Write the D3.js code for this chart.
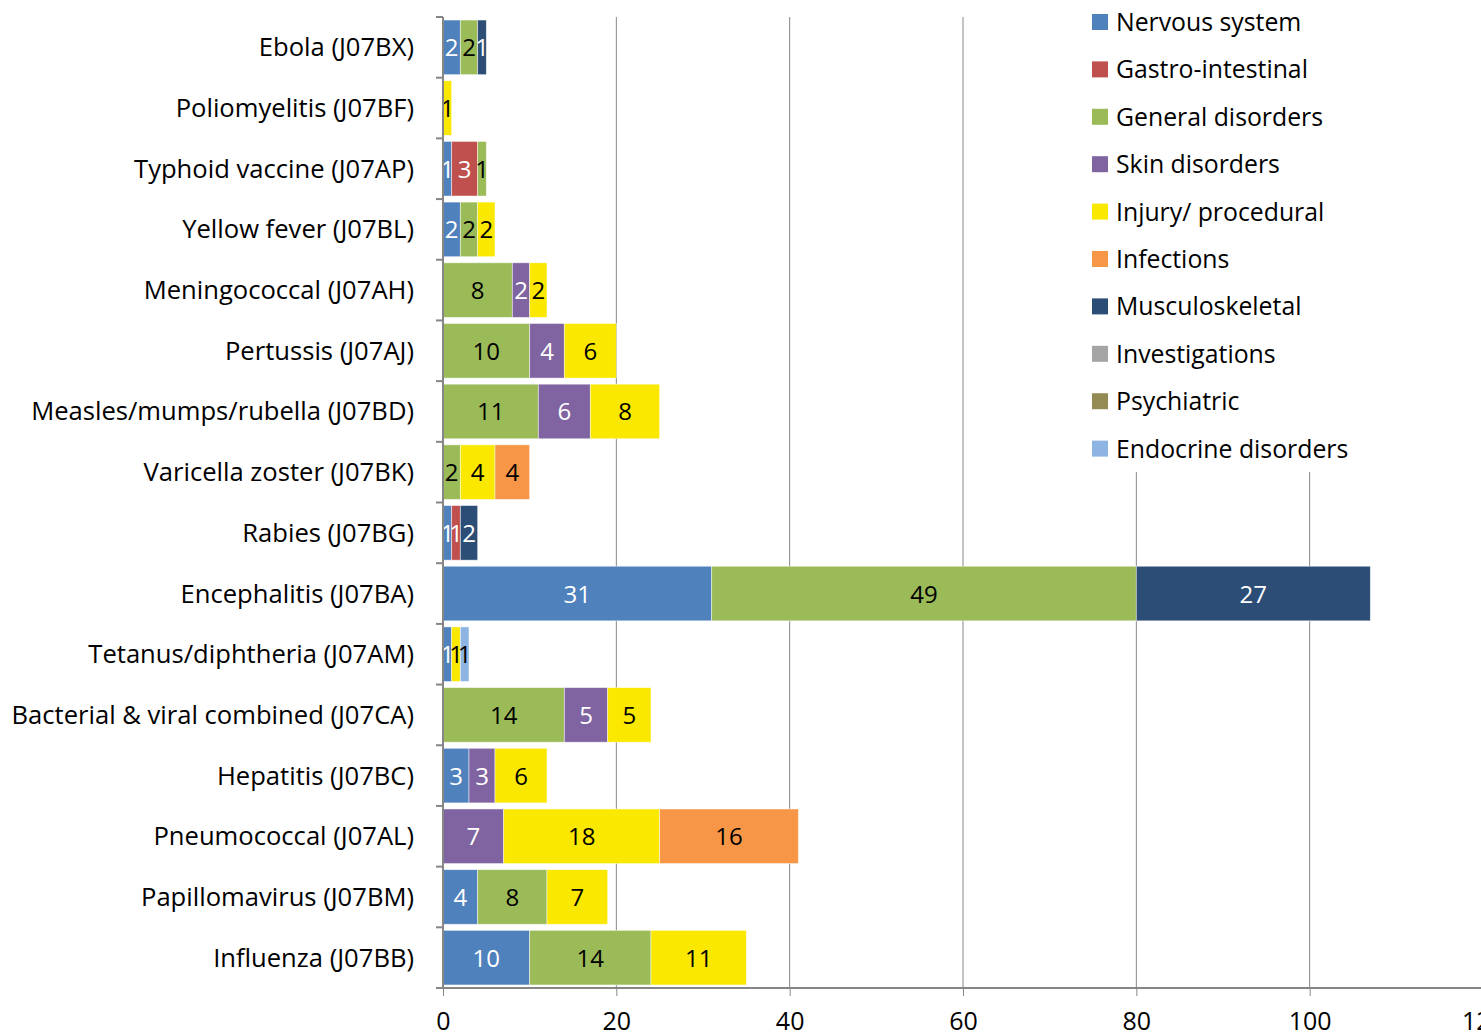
<!DOCTYPE html>
<html>
<head>
<meta charset="utf-8">
<script src="https://cdn.jsdelivr.net/npm/d3@7"></script>
<style>
  body { margin: 0; background: #fff; }
  svg text { font-family: "Open Sans", "Noto Sans", sans-serif; }
</style>
</head>
<body>
<div id="chart"></div>
<script>
////////////////////////////////////////////////////////////////////////
// data -- adverse reactions per vaccine group, stacked by organ class
////////////////////////////////////////////////////////////////////////
var vaccines = [
  "Ebola (J07BX)", "Poliomyelitis (J07BF)", "Typhoid vaccine (J07AP)",
  "Yellow fever (J07BL)", "Meningococcal (J07AH)", "Pertussis (J07AJ)",
  "Measles/mumps/rubella (J07BD)", "Varicella zoster (J07BK)", "Rabies (J07BG)",
  "Encephalitis (J07BA)", "Tetanus/diphtheria (J07AM)",
  "Bacterial & viral combined (J07CA)", "Hepatitis (J07BC)",
  "Pneumococcal (J07AL)", "Papillomavirus (J07BM)", "Influenza (J07BB)"
];

var seriesNames = [
  "Nervous system", "Gastro-intestinal", "General disorders", "Skin disorders",
  "Injury/ procedural", "Infections", "Musculoskeletal", "Investigations",
  "Psychiatric", "Endocrine disorders"
];

var seriesColors = ["#4f81bd", "#c0504d", "#9bbb59", "#8064a2", "#fae800",
                    "#f79646", "#2c4d75", "#a5a5a5", "#948a54", "#8eb4e3"];
var labelColors  = ["#fff", "#fff", "#000", "#fff", "#000",
                    "#000", "#fff", "#000", "#fff", "#000"];

// one array per series, in the order of vaccines
var nervous       = [2, 0, 1, 2, 0, 0, 0, 0, 1, 31, 1, 0, 3, 0, 4, 10];
var gastro        = [0, 0, 3, 0, 0, 0, 0, 0, 1, 0, 0, 0, 0, 0, 0, 0];
var general       = [2, 0, 1, 2, 8, 10, 11, 2, 0, 49, 0, 14, 0, 0, 8, 14];
var skin          = [0, 0, 0, 0, 2, 4, 6, 0, 0, 0, 0, 5, 3, 7, 0, 0];
var injury        = [0, 1, 0, 2, 2, 6, 8, 4, 0, 0, 1, 5, 6, 18, 7, 11];
var infections    = [0, 0, 0, 0, 0, 0, 0, 4, 0, 0, 0, 0, 0, 16, 0, 0];
var musculo       = [1, 0, 0, 0, 0, 0, 0, 0, 2, 27, 0, 0, 0, 0, 0, 0];
var investigations= [0, 0, 0, 0, 0, 0, 0, 0, 0, 0, 0, 0, 0, 0, 0, 0];
var psychiatric   = [0, 0, 0, 0, 0, 0, 0, 0, 0, 0, 0, 0, 0, 0, 0, 0];
var endocrine     = [0, 0, 0, 0, 0, 0, 0, 0, 0, 0, 1, 0, 0, 0, 0, 0];

var xTicks = [0, 20, 40, 60, 80, 100, 120];


////////////////////////////////////////////////////////////////////////
// build the chart
////////////////////////////////////////////////////////////////////////
function init()
  {
  var width = 1481, height = 1034;
  var allSeries = [nervous, gastro, general, skin, injury, infections,
                   musculo, investigations, psychiatric, endocrine];

  var rows = vaccines.map(function(v, i)
    {
    var row = {name: v};
    seriesNames.forEach(function(s, k) { row[s] = allSeries[k][i]; });
    return row;
    });

  var svg = d3.select("#chart").append("svg")
    .attr("width", width)
    .attr("height", height);

  var x = d3.scaleLinear().domain([0, 120]).range([443, 1483]);
  var y = d3.scaleBand().domain(vaccines).range([17, 988]).paddingInner(0.1).paddingOuter(0.05);

  // vertical gridlines
  svg.append("g").selectAll("line")
    .data(xTicks.filter(function(t) { return t > 0; }))
    .enter().append("line")
    .attr("x1", function(d) { return x(d); })
    .attr("x2", function(d) { return x(d); })
    .attr("y1", 17).attr("y2", 988)
    .attr("stroke", "#868686").attr("stroke-width", 1);

  // stacked bars
  var stack = d3.stack().keys(seriesNames);
  var layers = stack(rows);

  var groups = svg.append("g").selectAll("g")
    .data(layers)
    .enter().append("g")
    .attr("fill", function(d, i) { return seriesColors[i]; });

  groups.selectAll("rect")
    .data(function(d) { return d.filter(function(p) { return p[1] > p[0]; }); })
    .enter().append("rect")
    .attr("x", function(d) { return x(d[0]); })
    .attr("width", function(d) { return x(d[1]) - x(d[0]); })
    .attr("y", function(d) { return y(d.data.name); })
    .attr("height", y.bandwidth())
    .attr("stroke", "#fff").attr("stroke-opacity", 0.6).attr("stroke-width", 0.8);

  // value labels
  groups.selectAll("text")
    .data(function(d, i)
      {
      return d.filter(function(p) { return p[1] > p[0]; })
              .map(function(p) { p.color = labelColors[i]; return p; });
      })
    .enter().append("text")
    .attr("x", function(d) { return (x(d[0]) + x(d[1])) / 2; })
    .attr("y", function(d) { return y(d.data.name) + y.bandwidth() / 2 + 9; })
    .attr("text-anchor", "middle")
    .attr("font-size", 24)
    .attr("fill", function(d) { return d.color; })
    .text(function(d) { return d[1] - d[0]; });

  // legend box (covers gridlines)
  var legend = svg.append("g");
  legend.append("rect")
    .attr("x", 1080).attr("y", 0).attr("width", 300).attr("height", 472)
    .attr("fill", "#fff");
  var items = legend.selectAll("g.item")
    .data(seriesNames)
    .enter().append("g")
    .attr("transform", function(d, i) { return "translate(1092," + (22 + i * 47.4) + ")"; });
  items.append("rect")
    .attr("x", 0).attr("y", -8).attr("width", 16).attr("height", 16)
    .attr("fill", function(d, i) { return seriesColors[i]; });
  items.append("text")
    .attr("x", 24).attr("y", 9)
    .attr("font-size", 24.8)
    .attr("fill", "#000")
    .text(function(d) { return d; });

  // y axis
  var yAxis = svg.append("g");
  yAxis.append("line")
    .attr("x1", 443).attr("x2", 443).attr("y1", 17).attr("y2", 988)
    .attr("stroke", "#868686").attr("stroke-width", 2);
  var bounds = vaccines.map(function(v) { return y(v) - y.step() * y.paddingInner() / 2; });
  bounds.push(988);
  yAxis.selectAll("line.tick")
    .data(bounds)
    .enter().append("line")
    .attr("class", "tick")
    .attr("x1", 436).attr("x2", 443)
    .attr("y1", function(d) { return d; }).attr("y2", function(d) { return d; })
    .attr("stroke", "#868686").attr("stroke-width", 2);
  yAxis.selectAll("text")
    .data(vaccines)
    .enter().append("text")
    .attr("x", 414)
    .attr("y", function(d) { return y(d) + y.bandwidth() / 2 + 9; })
    .attr("text-anchor", "end")
    .attr("font-size", 25.6)
    .attr("fill", "#000")
    .text(function(d) { return d; });

  // x axis
  var xAxis = svg.append("g").attr("transform", "translate(0,988)")
    .call(d3.axisBottom(x).tickValues(xTicks).tickSize(8).tickSizeOuter(0));
  xAxis.select(".domain").attr("stroke", "#868686").attr("stroke-width", 2)
    .attr("d", "M436,0H1483");
  xAxis.selectAll(".tick line").attr("stroke", "#868686");
  xAxis.selectAll(".tick text")
    .attr("font-size", 25)
    .attr("font-family", "Open Sans, Noto Sans, sans-serif")
    .attr("fill", "#000")
    .attr("dy", 0).attr("y", 42);
  }

init();
</script>
</body>
</html>
